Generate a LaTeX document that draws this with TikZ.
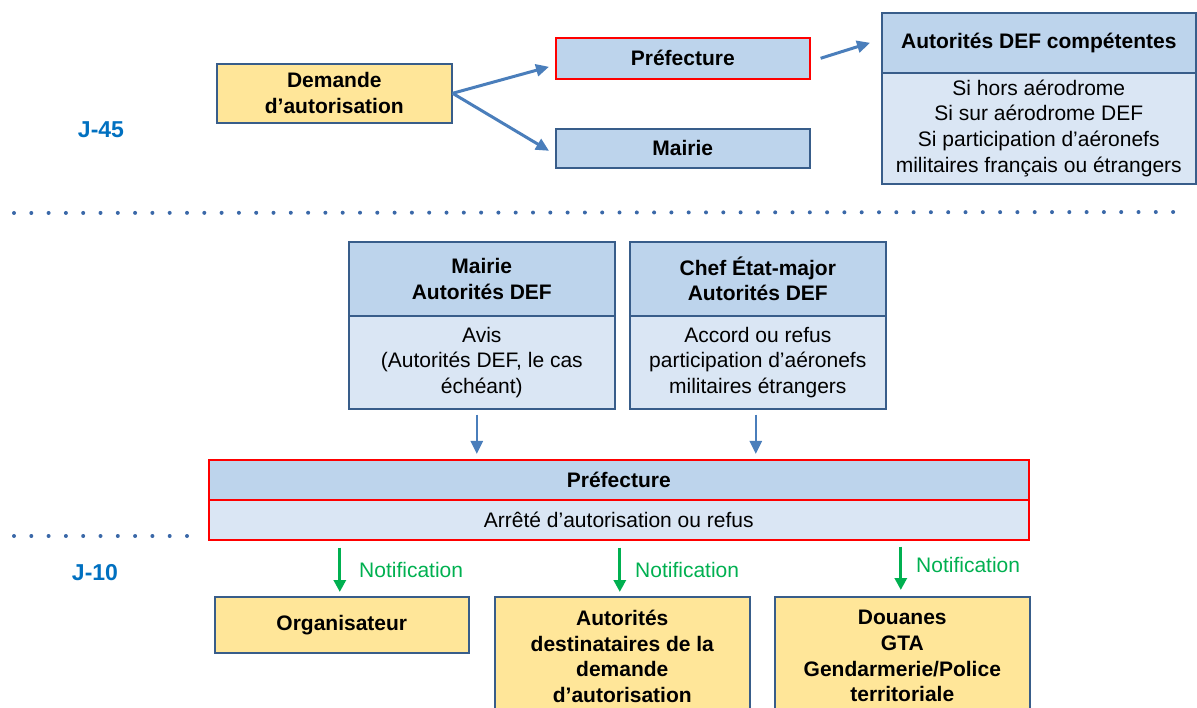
\documentclass[tikz,border=0pt]{standalone}
\usepackage{fontspec}
\setmainfont{Liberation Sans}
\usetikzlibrary{arrows.meta}

\definecolor{hdrblue}{HTML}{BDD4EC}
\definecolor{bodyblue}{HTML}{DAE6F4}
\definecolor{gold}{HTML}{FFE699}
\definecolor{edgeblue}{HTML}{385D8A}
\definecolor{arrowblue}{HTML}{4A7EBB}
\definecolor{notifgreen}{HTML}{00B050}
\definecolor{jblue}{HTML}{0070C0}
\definecolor{dotblue}{HTML}{3A68A8}

\tikzset{
  base/.style={draw=edgeblue, line width=1.6pt, inner sep=0pt, anchor=north west,
    align=center, font=\fontsize{21}{25.7}\selectfont},
  hdr/.style={base, fill=hdrblue, font=\fontsize{21}{25.7}\selectfont\bfseries},
  bod/.style={base, fill=bodyblue},
  req/.style={base, fill=gold, font=\fontsize{21}{25.7}\selectfont\bfseries},
  redline/.style={draw=red},
  flow/.style={draw=arrowblue, line width=3pt, -{Triangle[length=13pt,width=12pt]}},
  notif/.style={draw=notifgreen, line width=3pt, -{Triangle[length=12pt,width=12pt]}},
  notiflabel/.style={anchor=west, inner sep=0pt, text=notifgreen, font=\fontsize{21}{25.7}\selectfont},
  deadline/.style={inner sep=0pt, text=jblue, font=\fontsize{23}{27}\selectfont\bfseries},
  dotline/.style={draw=dotblue, line width=4pt, line cap=round, dash pattern=on 0pt off 17.3pt},
}

\begin{document}
\begin{tikzpicture}[x=1pt,y=-1pt]
\useasboundingbox (0,0) rectangle (1197,708);
\clip (0,0) rectangle (1197,708);

% ---- J-45 : dépôt de la demande ----
\node[deadline] (j45) at (101,130) {J-45};

\node[req, minimum width=235, minimum height=59] (demande) at (216,63) {Demande\\d’autorisation};
\node[hdr, redline, minimum width=254, minimum height=41] (pref1) at (555,37) {Préfecture};
\node[hdr, minimum width=254, minimum height=39] (mairie1) at (555,128) {Mairie};

\node[hdr, minimum width=314, minimum height=60] (defH) at (881,12) {Autorités DEF compétentes};
\node[bod, minimum width=314, minimum height=111] (defB) at (881,72)
  {Si hors aérodrome\\Si sur aérodrome DEF\\Si participation d’aéronefs\\militaires français ou étrangers};

\draw[flow] (demande.east) -- ([xshift=-6pt,yshift=-8.5pt]pref1.west);
\draw[flow] (demande.east) -- ([xshift=-6pt,yshift=-2.5pt]mairie1.west);
\draw[flow] ([xshift=10pt]pref1.east) -- ([xshift=-11pt]defH.west);

% separator
\draw[dotline] (14,213) -- (1190,212);

% ---- instruction ----
\node[hdr, minimum width=266, minimum height=74] (mbH) at (348,241) {Mairie\\Autorités DEF};
\node[bod, minimum width=266, minimum height=93] (mbB) at (348,315)
  {Avis\\(Autorités DEF, le cas\\échéant)};

\node[hdr, minimum width=256, minimum height=74] (chH) at (629,241) {Chef État-major\\Autorités DEF};
\node[bod, minimum width=256, minimum height=93] (chB) at (629,315)
  {Accord ou refus\\participation d’aéronefs\\militaires étrangers};

\node[hdr, redline, minimum width=820, minimum height=40] (prefH) at (208,459) {Préfecture};
\node[bod, redline, minimum width=820, minimum height=40] (prefB) at (208,499) {Arrêté d’autorisation ou refus};

\coordinate (m1) at ([xshift=-5pt]mbB.south);
\coordinate (c1) at ([xshift=-2pt]chB.south);
\draw[flow, line width=2.6pt, shorten <=5pt, shorten >=5pt] (m1) -- (m1 |- prefH.north);
\draw[flow, line width=2.6pt, shorten <=5pt, shorten >=5pt] (c1) -- (c1 |- prefH.north);

% separator and J-10
\draw[dotline] (14,536) -- (190,536);
\node[deadline] (j10) at (95,573) {J-10};

% ---- notification ----
\node[req, minimum width=254, minimum height=56] (org) at (214,596) {Organisateur};
\node[req, minimum width=255, minimum height=119] (dest) at (494,596)
  {Autorités\\destinataires de la\\demande\\d’autorisation};
\node[req, minimum width=255, minimum height=119] (douanes) at (774,596)
  {Douanes\\GTA\\Gendarmerie/Police\\territoriale};

\coordinate (g1) at ([xshift=-2pt]org.north);
\coordinate (g2) at ([xshift=-2.5pt]dest.north);
\coordinate (g3) at ([xshift=-1.5pt]douanes.north);
\draw[notif, shorten <=7pt, shorten >=4pt] (g1 |- prefB.south) -- (g1);
\draw[notif, shorten <=7pt, shorten >=4pt] (g2 |- prefB.south) -- (g2);
\draw[notif, shorten <=6pt, shorten >=6pt] (g3 |- prefB.south) -- (g3);

\node[notiflabel] (n1) at (359,570) {Notification};
\node[notiflabel] (n2) at (635,570) {Notification};
\node[notiflabel] (n3) at (916,565) {Notification};
\end{tikzpicture}
\end{document}
